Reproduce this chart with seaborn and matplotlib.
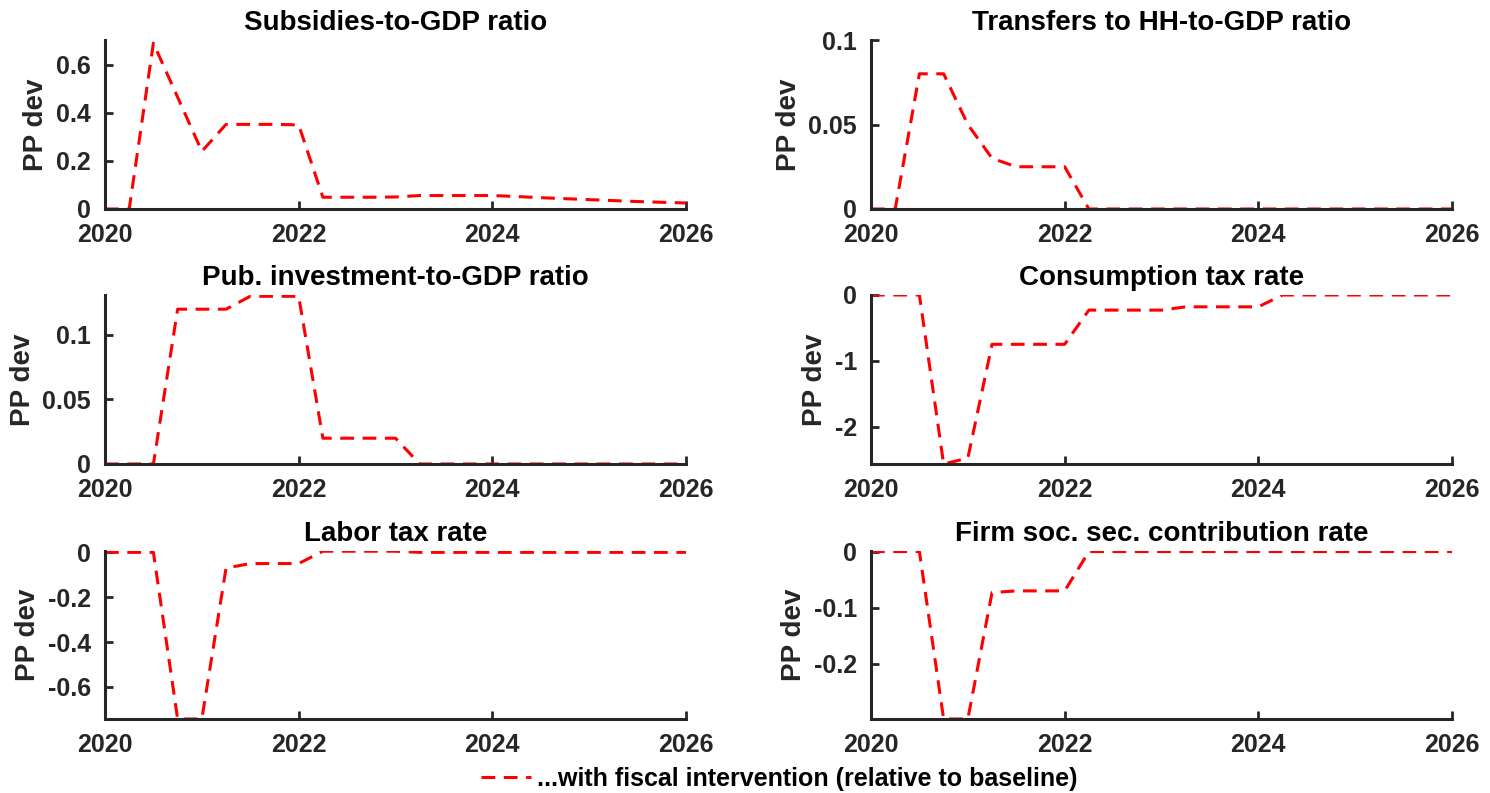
import matplotlib
matplotlib.use("Agg")
import matplotlib.pyplot as plt
import seaborn as sns
import pandas as pd
from matplotlib.lines import Line2D

# Quarterly horizon
quarters = [2020.00, 2020.25, 2020.50, 2020.75, 2021.00, 2021.25, 2021.50, 2021.75,
            2022.00, 2022.25, 2022.50, 2022.75, 2023.00, 2023.25, 2023.50, 2023.75,
            2024.00, 2024.25, 2024.50, 2024.75, 2025.00, 2025.25, 2025.50, 2025.75,
            2026.00]

subsidies = [0.0, 0.0, 0.69, 0.465, 0.24, 0.352, 0.352, 0.352,
             0.35, 0.049, 0.049, 0.049, 0.05, 0.056, 0.056, 0.056,
             0.056, 0.052, 0.047, 0.043, 0.039, 0.035, 0.031, 0.028,
             0.025]
transfers = [0.0, 0.0, 0.08, 0.08, 0.05, 0.03, 0.025, 0.025,
             0.025, 0.0, 0.0, 0.0, 0.0, 0.0, 0.0, 0.0,
             0.0, 0.0, 0.0, 0.0, 0.0, 0.0, 0.0, 0.0,
             0.0]
pub_invest = [0.0, 0.0, 0.0, 0.12, 0.12, 0.12, 0.13, 0.13,
              0.13, 0.02, 0.02, 0.02, 0.02, 0.0, 0.0, 0.0,
              0.0, 0.0, 0.0, 0.0, 0.0, 0.0, 0.0, 0.0,
              0.0]
cons_tax = [0.0, 0.0, 0.0, -2.57, -2.48, -0.75, -0.75, -0.75,
            -0.75, -0.23, -0.23, -0.23, -0.23, -0.18, -0.18, -0.18,
            -0.18, 0.0, 0.0, 0.0, 0.0, 0.0, 0.0, 0.0,
            0.0]
labor_tax = [0.0, 0.0, 0.0, -0.743, -0.743, -0.07, -0.05, -0.05,
             -0.05, 0.005, 0.005, 0.005, 0.005, 0.0, 0.0, 0.0,
             0.0, 0.0, 0.0, 0.0, 0.0, 0.0, 0.0, 0.0,
             0.0]
firm_ssc = [0.0, 0.0, 0.0, -0.298, -0.298, -0.073, -0.07, -0.07,
            -0.07, 0.0, 0.0, 0.0, 0.0, 0.0, 0.0, 0.0,
            0.0, 0.0, 0.0, 0.0, 0.0, 0.0, 0.0, 0.0,
            0.0]

titles = ["Subsidies-to-GDP ratio", "Transfers to HH-to-GDP ratio",
          "Pub. investment-to-GDP ratio", "Consumption tax rate",
          "Labor tax rate", "Firm soc. sec. contribution rate"]
series = [subsidies, transfers, pub_invest, cons_tax, labor_tax, firm_ssc]
ylims = [(0, 0.703), (0, 0.1), (0, 0.131), (-2.57, 0), (-0.743, 0.006), (-0.298, 0.001)]
yticks = [[0, 0.2, 0.4, 0.6], [0, 0.05, 0.1], [0, 0.05, 0.1], [-2, -1, 0],
          [-0.6, -0.4, -0.2, 0], [-0.2, -0.1, 0]]
yticklabels = [["0", "0.2", "0.4", "0.6"], ["0", "0.05", "0.1"], ["0", "0.05", "0.1"],
               ["-2", "-1", "0"], ["-0.6", "-0.4", "-0.2", "0"], ["-0.2", "-0.1", "0"]]
xticks = [2020, 2022, 2024, 2026]
legend_label = "...with fiscal intervention (relative to baseline)"

sns.set_theme(style="ticks")
plt.rcParams["font.family"] = ["Liberation Sans", "DejaVu Sans"]
plt.rcParams["font.weight"] = "bold"

ink = "#262626"
dash = (0, (4.5, 2.8))
W, H = 1490, 793
fig = plt.figure(figsize=(W / 100, H / 100), dpi=100)

lefts = [105, 871]
width = 581
rows = [(40, 209), (295, 464), (551, 719)]

for i, (title, vals) in enumerate(zip(titles, series)):
    r, c = divmod(i, 2)
    top, bot = rows[r]
    ax = fig.add_axes([lefts[c] / W, 1 - bot / H, width / W, (bot - top) / H])
    df = pd.DataFrame({"quarter": quarters, "value": vals})
    sns.lineplot(data=df, x="quarter", y="value", ax=ax, color="red",
                 linestyle=dash, linewidth=2.2)
    ax.set_xlim(2020, 2026)
    ax.set_ylim(*ylims[i])
    ax.set_xticks(xticks)
    ax.set_xticklabels([str(t) for t in xticks])
    ax.set_yticks(yticks[i])
    ax.set_yticklabels(yticklabels[i])
    ax.set_xlabel("")
    ax.set_ylabel("PP dev", fontsize=20, fontweight="bold", color=ink, labelpad=5)
    ax.set_title(title, fontsize=20, fontweight="bold", color="black", pad=7)
    for s in ["top", "right"]:
        ax.spines[s].set_visible(False)
    for s in ["left", "bottom"]:
        ax.spines[s].set_color(ink)
        ax.spines[s].set_linewidth(2.2)
    ax.tick_params(direction="in", length=6, width=2, colors=ink,
                   labelsize=18)
    ax.tick_params(axis="x", pad=10)
    ax.tick_params(axis="y", pad=10)
    for lab in ax.get_xticklabels() + ax.get_yticklabels():
        lab.set_fontweight("bold")
    ax.set_facecolor("white")

handle = Line2D([], [], color="red", linestyle=dash, linewidth=2.2)
fig.legend([handle], [legend_label], loc="lower center",
           bbox_to_anchor=(0.523, -0.026), frameon=False,
           prop={"size": 18, "weight": "bold"}, handlelength=2.0,
           handletextpad=0.25, labelcolor="black")

fig.savefig("out.png", dpi=100, facecolor="white")
